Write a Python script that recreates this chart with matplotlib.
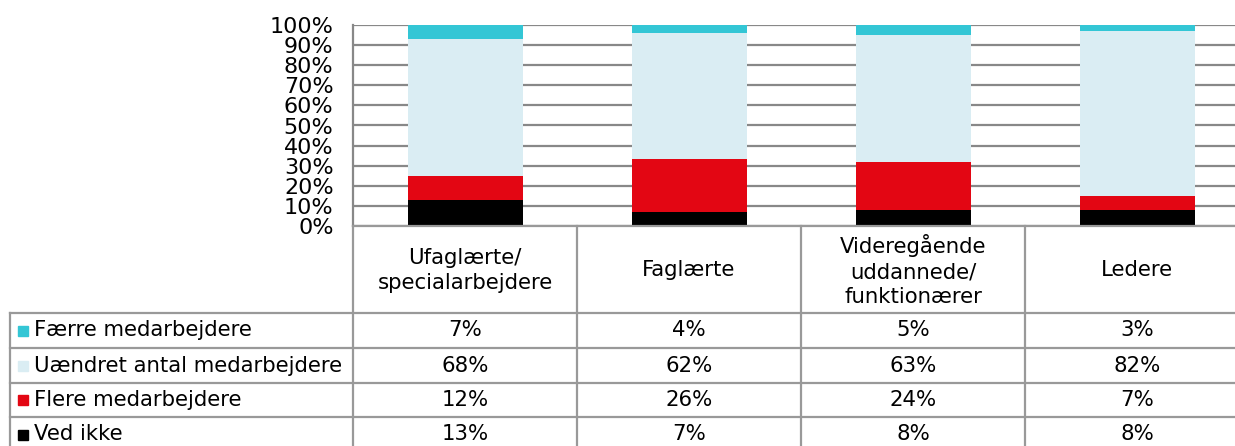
import matplotlib.pyplot as plt
import matplotlib
import numpy as np

matplotlib.use('Agg')

plt.rcParams.update({'font.family': ['DejaVu Sans']})

categories = ['Ufaglærte/\nspecialarbejdere', 'Faglærte',
              'Videregående\nuddannede/\nfunktionærer', 'Ledere']
series = ['Færre medarbejdere', 'Uændret antal medarbejdere',
          'Flere medarbejdere', 'Ved ikke']
faerre = [7, 4, 5, 3]
uaendret = [68, 62, 63, 82]
flere = [12, 26, 24, 7]
ved_ikke = [13, 7, 8, 8]
colors = ['#33C6D5', '#DAEDF3', '#E30613', '#000000']

W, H = 1235, 446
fig = plt.figure(figsize=(W / 100, H / 100), dpi=100)

# pixel layout
left, right, top, bottom = 353, 1249, 25, 226
ax = fig.add_axes([left / W, 1 - bottom / H, (right - left) / W, (bottom - top) / H])

# 100% stacked: normalise each column
tot = np.array(faerre) + np.array(uaendret) + np.array(flere) + np.array(ved_ikke)
p_ved = 100 * np.array(ved_ikke) / tot
p_fle = 100 * np.array(flere) / tot
p_uae = 100 * np.array(uaendret) / tot
p_fae = 100 * np.array(faerre) / tot

x = np.arange(len(categories))
bw = 115 / 224
ax.bar(x, p_ved, bw, color=colors[3], zorder=3)
ax.bar(x, p_fle, bw, bottom=p_ved, color=colors[2], zorder=3)
ax.bar(x, p_uae, bw, bottom=p_ved + p_fle, color=colors[1], zorder=3)
ax.bar(x, p_fae, bw, bottom=p_ved + p_fle + p_uae, color=colors[0], zorder=3)

ax.set_xlim(-0.5, len(categories) - 0.5)
ax.set_ylim(0, 100)
ax.set_yticks(np.arange(0, 101, 10))
ax.set_yticklabels([f'{v}%' for v in range(0, 101, 10)], fontsize=16)
ax.tick_params(axis='y', length=0, pad=14)
ax.set_xticks([])
ax.yaxis.grid(True, color='#888888', lw=1.6, zorder=0)
for s in ['top', 'right', 'bottom']:
    ax.spines[s].set_visible(False)
ax.spines['left'].set_color('#888888')
ax.spines['left'].set_linewidth(1.6)

# data table drawn in pixel coordinates
tab = fig.add_axes([0, 0, 1, 1])
tab.set_xlim(0, W)
tab.set_ylim(H, 0)
tab.axis('off')
lc = '#999999'
lw = 1.6
cols = [left + i * 224 for i in range(len(categories) + 1)]
rows = [226, 313, 348, 383, 417, 452]

tab.plot([left, right], [rows[0], rows[0]], color=lc, lw=lw)
for yy in rows[1:]:
    tab.plot([10, right], [yy, yy], color=lc, lw=lw)
tab.plot([10, 10], [rows[1], rows[-1]], color=lc, lw=lw)
for xx in cols:
    tab.plot([xx, xx], [rows[0], rows[-1]], color=lc, lw=lw)

fs = 15.3
for i, c in enumerate(categories):
    tab.text((cols[i] + cols[i + 1]) / 2, (rows[0] + rows[1]) / 2 + 1, c,
             ha='center', va='center', fontsize=fs, linespacing=1.3)

table_vals = [faerre, uaendret, flere, ved_ikke]
for r, (name, vals, col) in enumerate(zip(series, table_vals, colors)):
    yc = (rows[r + 1] + rows[r + 2]) / 2
    tab.add_patch(plt.Rectangle((18, yc - 5), 10, 10, color=col))
    tab.text(34, yc, name, ha='left', va='center', fontsize=fs)
    for i, v in enumerate(vals):
        tab.text((cols[i] + cols[i + 1]) / 2, yc, f'{v}%',
                 ha='center', va='center', fontsize=fs)

fig.savefig('out.png', dpi=100)
